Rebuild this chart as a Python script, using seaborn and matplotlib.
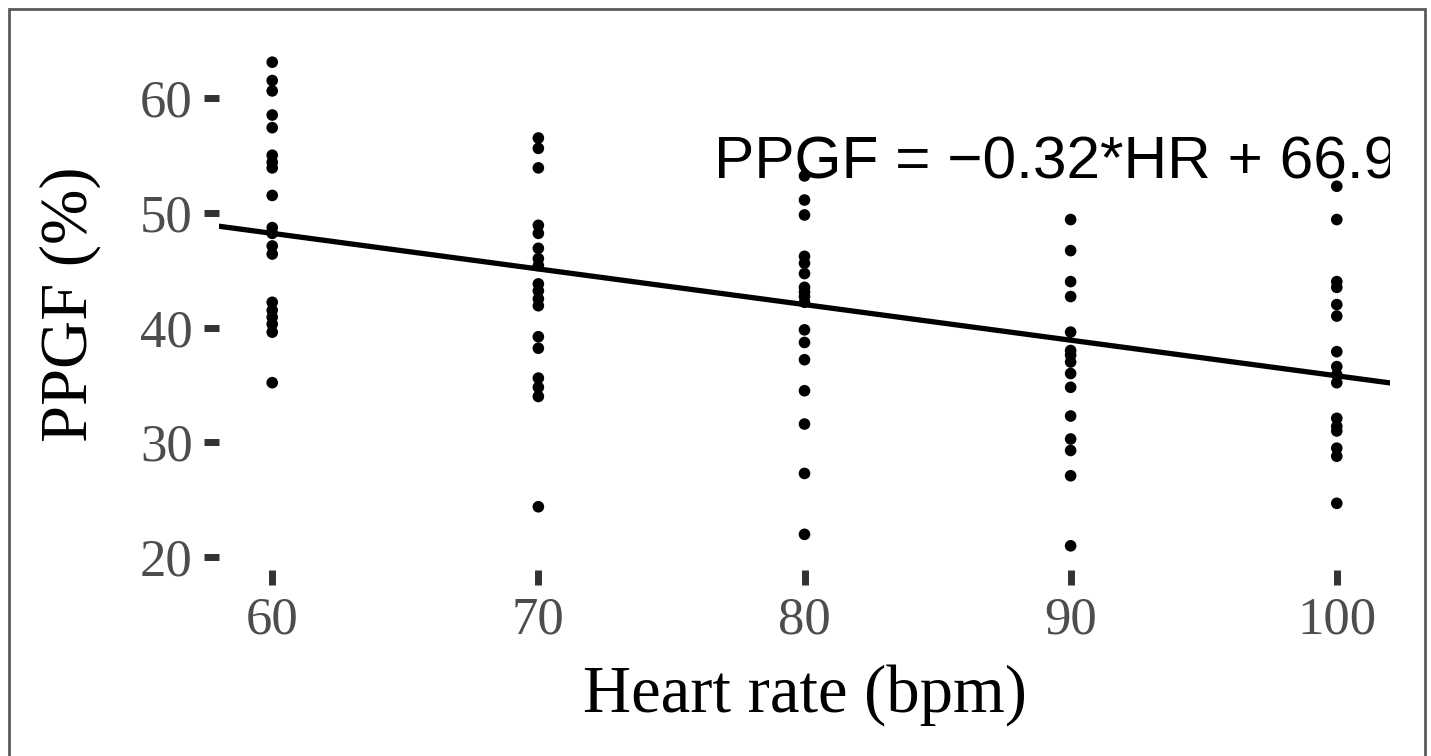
import numpy as np
import pandas as pd
import matplotlib
matplotlib.use("Agg")
import matplotlib.pyplot as plt
import seaborn as sns
from matplotlib.patches import Rectangle

# ---- data ----
hr_levels = [60, 70, 80, 90, 100]
ppgf_60 = [63.1, 61.5, 60.6, 58.5, 57.4, 55.0, 54.4, 53.9, 51.5, 48.7, 48.2,
           47.1, 46.4, 42.2, 41.5, 40.9, 40.3, 39.6, 35.2]
ppgf_70 = [56.5, 55.6, 53.9, 48.9, 48.2, 46.9, 46.0, 45.4, 43.8, 43.2, 42.5,
           41.9, 39.2, 38.2, 35.6, 34.8, 34.0, 24.4]
ppgf_80 = [53.2, 51.1, 49.8, 46.2, 45.6, 44.7, 43.5, 43.1, 42.7, 42.2, 39.8,
           38.7, 37.2, 34.5, 31.6, 27.3, 22.0]
ppgf_90 = [49.4, 46.7, 44.0, 42.7, 39.6, 38.0, 37.6, 37.0, 36.0, 34.8, 32.3,
           30.3, 29.3, 27.1, 21.0]
ppgf_100 = [52.3, 49.4, 44.0, 43.5, 42.0, 41.0, 37.9, 36.6, 35.9, 35.2, 32.1,
            31.4, 31.0, 29.5, 28.8, 24.7]
line_slope = -0.31
line_intercept = 66.8
equation_label = "PPGF = \u22120.32*HR + 66.9"
x_ticks = [60, 70, 80, 90, 100]
y_ticks = [20, 30, 40, 50, 60]
x_title = "Heart rate (bpm)"
y_title = "PPGF (%)"

columns = [ppgf_60, ppgf_70, ppgf_80, ppgf_90, ppgf_100]
df = pd.DataFrame({
    "HR": np.concatenate([[h] * len(c) for h, c in zip(hr_levels, columns)]),
    "PPGF": np.concatenate(columns),
})

sns.set_style("white")
plt.rcParams["font.family"] = ["Liberation Serif", "DejaVu Serif"]

W, H = 1431, 756
fig = plt.figure(figsize=(W / 100, H / 100), dpi=100)
ax = fig.add_axes([219 / W, 1 - 570 / H, (1390 - 219) / W, (570 - 38) / H])

sns.scatterplot(data=df, x="HR", y="PPGF", ax=ax, color="black", s=70,
                edgecolor="none", zorder=3)
ax.axline((0, line_intercept), slope=line_slope, color="black", lw=3.8, zorder=2)

xr = max(hr_levels) - min(hr_levels)
ax.set_xlim(min(hr_levels) - 0.05 * xr, max(hr_levels) + 0.05 * xr)
ymin, ymax = df["PPGF"].min(), df["PPGF"].max()
yr = ymax - ymin
ax.set_ylim(ymin - 0.05 * yr, ymax + 0.05 * yr)

ax.set_xticks(x_ticks)
ax.set_yticks(y_ticks)
ax.tick_params(axis="both", bottom=True, left=True, direction="out",
               length=11, width=5, color="#333333",
               labelsize=38, labelcolor="#4d4d4d", pad=8)
sns.despine(ax=ax, left=True, bottom=True)
ax.grid(False)

ax.set_xlabel(x_title, fontsize=48, color="black", labelpad=14)
ax.set_ylabel(y_title, fontsize=48, color="black", labelpad=28)

ax.text(76.6, 53.0, equation_label, fontsize=43.5, ha="left", va="baseline",
        family=["Liberation Sans", "DejaVu Sans"], color="black", clip_on=True,
        zorder=4)

# outer grey frame (bottom edge is cropped in the reference)
fig.add_artist(Rectangle((8.5 / W, -0.05), (1425 - 8.5) / W, 1.05 - 8.5 / H,
                         transform=fig.transFigure, fill=False,
                         edgecolor="#5a5a5a", lw=2.0, clip_on=False))

fig.savefig("out.png", dpi=100, facecolor="white")
